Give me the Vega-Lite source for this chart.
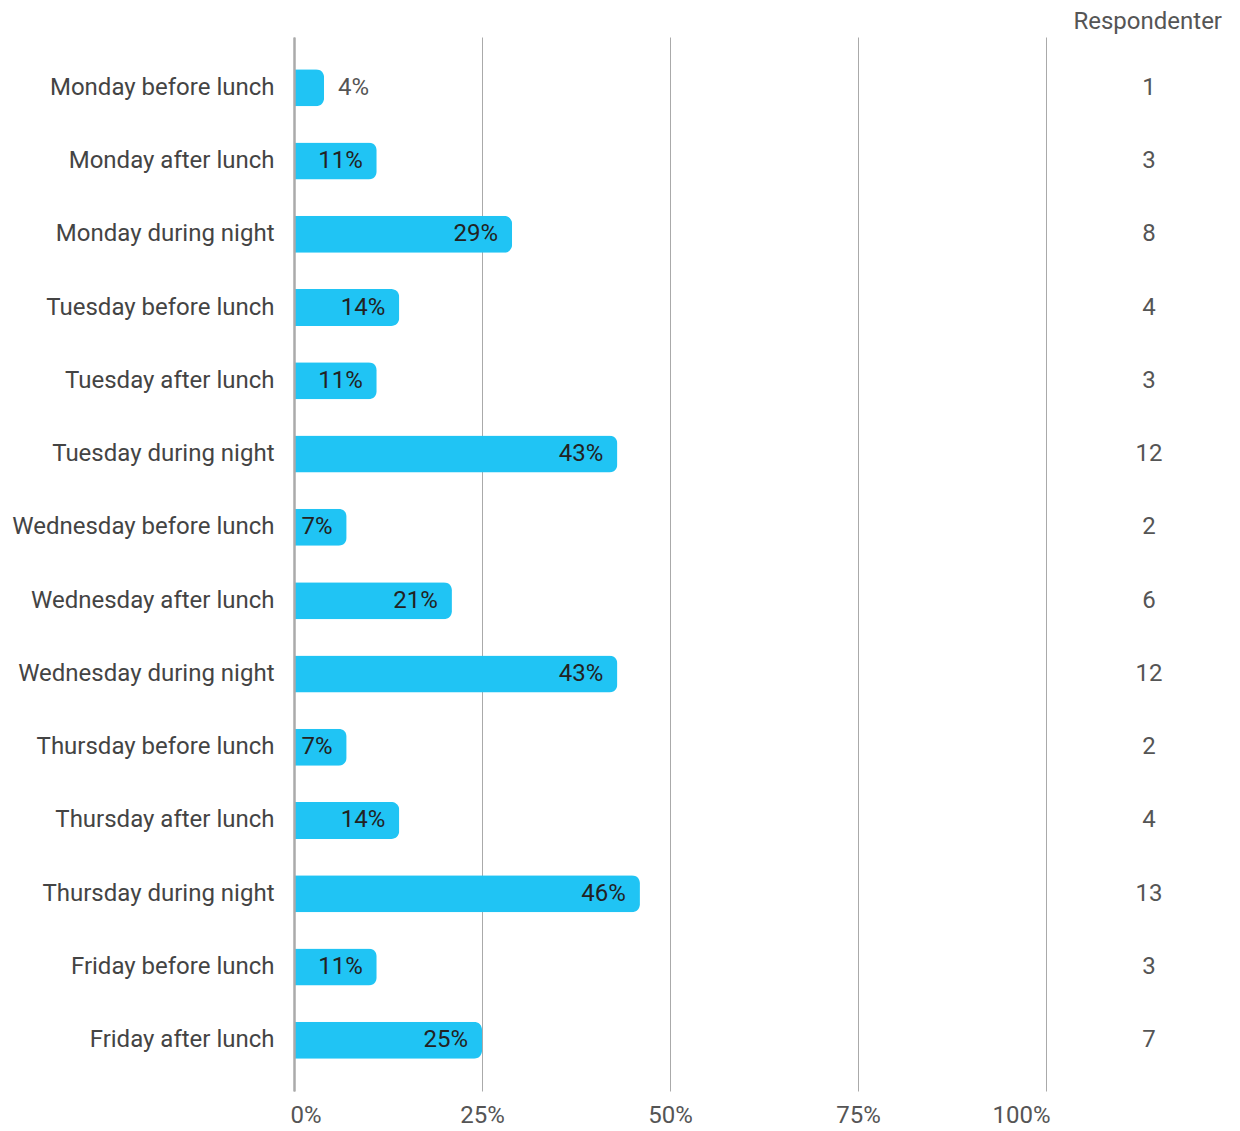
{
  "$schema": "https://vega.github.io/schema/vega-lite/v6.json",
  "autosize": {"type": "none"},
  "padding": {"left": 294, "top": 37, "right": 18, "bottom": 40},
  "width": 928,
  "height": 1054,
  "config": {"font": "Roboto", "view": {"stroke": null}},
  "title": {"text": "Respondenter", "anchor": "end", "fontSize": 24, "fontWeight": "normal", "color": "#555555", "offset": 3, "font": "Roboto"},
  "data": {"values": [
    {"slot": "Monday before lunch", "n": 1, "pct": 0.04},
    {"slot": "Monday after lunch", "n": 3, "pct": 0.11},
    {"slot": "Monday during night", "n": 8, "pct": 0.29},
    {"slot": "Tuesday before lunch", "n": 4, "pct": 0.14},
    {"slot": "Tuesday after lunch", "n": 3, "pct": 0.11},
    {"slot": "Tuesday during night", "n": 12, "pct": 0.43},
    {"slot": "Wednesday before lunch", "n": 2, "pct": 0.07},
    {"slot": "Wednesday after lunch", "n": 6, "pct": 0.21},
    {"slot": "Wednesday during night", "n": 12, "pct": 0.43},
    {"slot": "Thursday before lunch", "n": 2, "pct": 0.07},
    {"slot": "Thursday after lunch", "n": 4, "pct": 0.14},
    {"slot": "Thursday during night", "n": 13, "pct": 0.46},
    {"slot": "Friday before lunch", "n": 3, "pct": 0.11},
    {"slot": "Friday after lunch", "n": 7, "pct": 0.25}
  ]},
  "encoding": {
    "y": {
      "field": "slot", "type": "nominal", "sort": null,
      "scale": {"paddingInner": 0.495, "paddingOuter": 0.44},
      "axis": {"title": null, "domain": true, "domainColor": "#aaaaaa", "domainWidth": 2.5, "ticks": false, "labelPadding": 20, "labelFontSize": 24, "labelColor": "#444444", "labelFont": "Roboto", "zindex": 1, "labelLimit": 400}
    }
  },
  "layer": [
    {
      "mark": {"type": "bar", "color": "#20C4F4", "cornerRadiusEnd": 8},
      "encoding": {
        "x": {
          "field": "pct", "type": "quantitative",
          "scale": {"domain": [0, 1.234], "nice": false},
          "axis": {"title": null, "values": [0, 0.25, 0.5, 0.75, 1], "format": ".0%", "grid": true, "gridColor": "#aaaaaa", "gridWidth": 1, "domain": false, "ticks": false, "labelFlush": 182, "labelFlushOffset": 4, "labelPadding": 12, "labelFontSize": 24, "labelColor": "#555555", "labelFont": "Roboto"}
        }
      }
    },
    {
      "transform": [{"filter": "datum.pct >= 0.05"}],
      "mark": {"type": "text", "align": "right", "dx": -14, "fontSize": 24, "color": "#222222", "font": "Roboto"},
      "encoding": {
        "x": {"field": "pct", "type": "quantitative"},
        "text": {"field": "pct", "format": ".0%"}
      }
    },
    {
      "transform": [{"filter": "datum.pct < 0.05"}],
      "mark": {"type": "text", "align": "left", "dx": 14, "fontSize": 24, "color": "#555555", "font": "Roboto"},
      "encoding": {
        "x": {"field": "pct", "type": "quantitative"},
        "text": {"field": "pct", "format": ".0%"}
      }
    },
    {
      "mark": {"type": "text", "align": "center", "fontSize": 24, "color": "#555555", "font": "Roboto"},
      "encoding": {
        "x": {"datum": 1.137},
        "text": {"field": "n"}
      }
    }
  ]
}
